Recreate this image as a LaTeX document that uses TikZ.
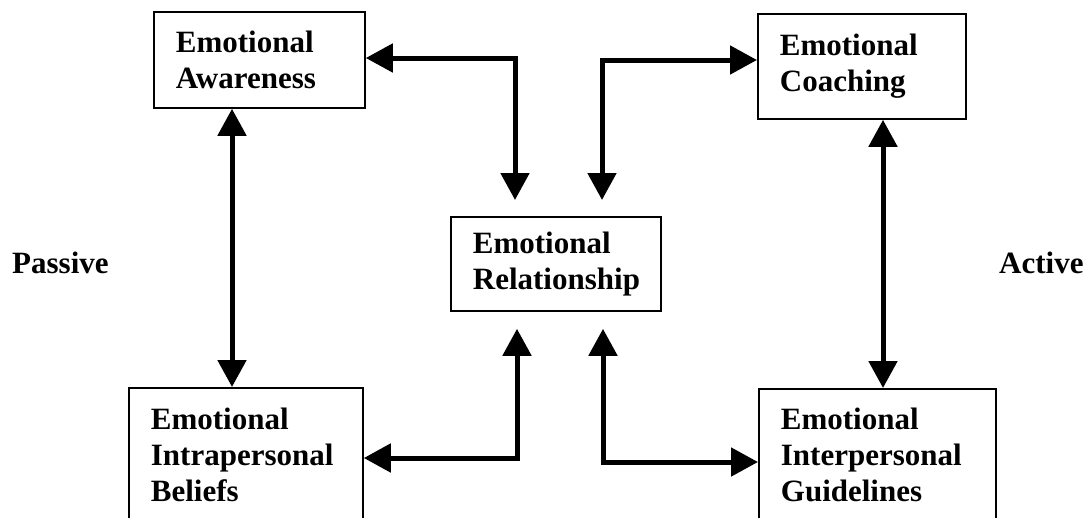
\documentclass[tikz,border=0pt]{standalone}
\usepackage{fontspec}
\setmainfont{Liberation Serif}
\usetikzlibrary{arrows.meta}
\newcommand\keepwhole{\hyphenpenalty=10000 \exhyphenpenalty=10000 }
\begin{document}
\begin{tikzpicture}[x=1pt,y=-1pt,
  labelfont/.style={font=\fontsize{31}{36}\selectfont\bfseries},
  box/.style={draw, line width=1.8pt, anchor=north west, align=left,
    inner xsep=22pt, inner ysep=0pt, labelfont, execute at begin node=\keepwhole},
  side/.style={anchor=base west, inner sep=0pt, labelfont},
  conn/.style={line width=5pt, line join=miter,
    {Triangle[width=28pt,length=27pt]}-{Triangle[width=28pt,length=27pt]}}]
\clip (0,0) rectangle (1087,517);
\useasboundingbox (0,0) rectangle (1087,517);

% boxes
\node[box, text width=167pt, minimum height=96pt]  (aw) at (153,11)  {Emotional\\Awareness};
\node[box, text width=164pt, minimum height=105pt] (co) at (757,13)  {Emotional\\Coaching};
\node[box, text width=166pt, minimum height=94pt]  (re) at (450,216) {Emotional\\Relationship};
\node[box, text width=190pt, minimum height=134pt] (be) at (128,387) {Emotional\\Intrapersonal\\Beliefs};
\node[box, text width=193pt, minimum height=133pt] (gu) at (758,388) {Emotional\\Interpersonal\\Guidelines};

% side labels
\node[side] (passive) at (12,273)   {Passive};
\node[side] (active)  at (999,273) {Active};

% connector columns and rows
\coordinate (xL)  at (232,0);
\coordinate (xR)  at (883,0);
\coordinate (xM1) at (515,0);
\coordinate (xM2) at (602,0);
\coordinate (xM3) at (517,0);
\coordinate (xM4) at (603,0);
\coordinate (yT1) at (0,58);
\coordinate (yT2) at (0,60);
\coordinate (yB1) at (0,458);
\coordinate (yB2) at (0,462);

% vertical links
\draw[conn] (aw.south -| xL) -- (be.north -| xL);
\draw[conn] (co.south -| xR) -- (gu.north -| xR);

% links to the relationship box
\draw[conn, shorten >=16pt] (aw.east |- yT1) -| (re.north -| xM1);
\draw[conn, shorten >=16pt] (co.west |- yT2) -| (re.north -| xM2);
\draw[conn, shorten >=17pt] (be.east |- yB1) -| (re.south -| xM3);
\draw[conn, shorten >=17pt] (gu.west |- yB2) -| (re.south -| xM4);
\end{tikzpicture}
\end{document}
